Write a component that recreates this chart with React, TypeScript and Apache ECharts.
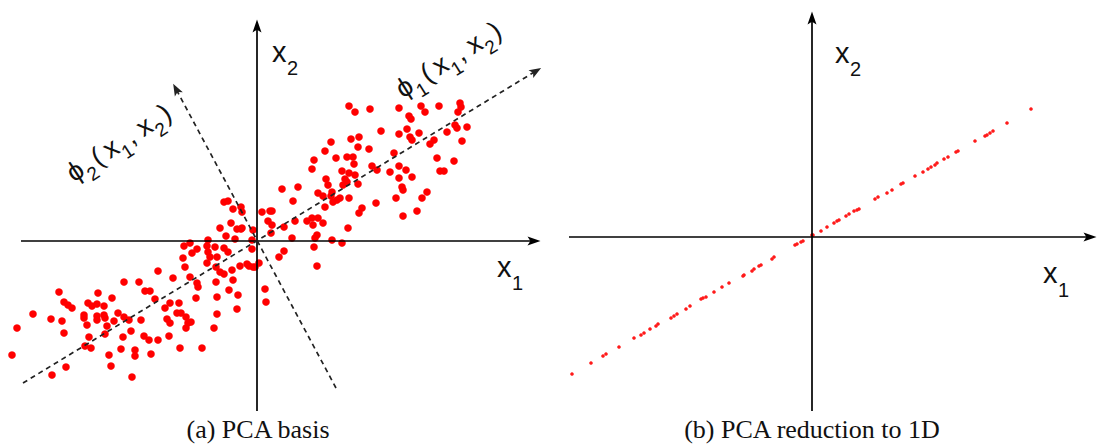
import React, { useEffect, useRef } from "react";
import * as echarts from "echarts";

// ---------- data (units: 1 = 10 px) ----------
// Panel (a): original 2-D samples (x1, x2)
const basisPoints: [number, number][] = [
  [-13.3,-4.1],[-11.8,-4.1],[-19.8,-5.1],[-15.9,-5.2],[-11.2,-5.0],[-10.7,-5.0],[-14.5,-5.7],[-19.3,-6.1],
  [-18.9,-6.4],[-18.5,-6.7],[-16.9,-6.2],[-16.5,-6.5],[-16.0,-6.3],[-15.3,-6.5],[-10.2,-5.8],[-9.9,-3.0],
  [-22.4,-7.3],[-20.6,-7.8],[-19.5,-8.0],[-17.3,-7.4],[-17.3,-7.7],[-16.0,-7.5],[-16.0,-7.9],[-15.3,-7.4],
  [-15.2,-7.7],[-13.9,-7.2],[-13.3,-7.6],[-14.3,-8.0],[-12.8,-7.9],[-11.6,-7.9],[-24.0,-8.7],[-17.0,-8.4],
  [-15.0,-8.5],[-19.3,-9.2],[-15.2,-9.3],[-12.6,-9.0],[-13.4,-9.6],[-11.3,-9.5],[-10.8,-9.9],[-9.9,-9.9],
  [-16.8,-9.6],[-17.2,-10.5],[-16.6,-10.7],[-13.6,-10.8],[-12.2,-10.9],[-12.2,-11.5],[-14.8,-11.4],[-10.6,-11.3],
  [-24.5,-11.4],[-19.1,-12.6],[-14.6,-12.5],[-20.5,-13.4],[-12.5,-13.6],
  [2.5,5.2],[4.1,5.4],[3.6,4.0],[-3.3,3.9],[-2.9,4.0],[-2.4,3.2],[-1.6,3.4],[-1.5,2.9],[0.5,2.9],[1.3,3.0],
  [1.5,3.0],[1.1,2.0],[-2.6,1.8],[-3.7,1.3],[-2.0,1.2],[-1.6,1.2],[-1.5,1.3],[-0.4,1.1],[1.5,1.6],[1.4,0.8],
  [2.7,1.4],[3.8,2.0],[5.0,2.0],[-3.1,0.5],[-2.2,0.2],[-0.5,0.1],[3.5,0.3],[-4.9,0.1],[-7.3,-0.5],[-6.7,-0.2],
  [-6.0,-0.8],[-6.5,-1.2],[-5.0,-0.5],[-4.2,-0.6],[-4.9,-1.1],[-3.3,-0.7],[-2.9,-1.1],[-0.5,-0.8],[2.7,-1.0],
  [2.2,-1.6],[-7.4,-1.7],[-4.7,-1.6],[-5.0,-2.2],[-4.0,-1.6],[-4.1,-2.6],[-3.7,-3.1],[-3.3,-3.3],[-2.5,-2.9],
  [-1.7,-2.5],[-1.0,-2.3],[-0.8,-2.5],[-0.4,-2.6],[-0.2,-2.6],[0.2,-2.2],[-7.2,-2.6],[-8.4,-3.7],[-6.7,-3.6],
  [-6.0,-4.2],[-5.9,-4.6],[-4.1,-4.1],[-2.4,-3.9],[6.0,-2.5],[-2.8,-4.9],[-1.9,-5.4],[-4.0,-5.6],[-6.1,-5.7],
  [0.8,-4.8],[0.9,-6.1],[-8.7,-6.2],[-7.8,-6.2],[-9.2,-6.7],[-8.0,-7.2],[-7.6,-7.2],[-7.1,-7.6],[-9.0,-7.8],
  [-8.7,-8.2],[-6.9,-8.2],[-6.6,-8.1],[-7.1,-8.7],[-8.8,-9.5],[-7.7,-10.7],[-5.5,-10.7],[-4.3,-8.7],[-4.0,-7.3],
  [-2.0,-6.8],
  [9.2,13.5],[9.8,12.9],[11.3,13.2],[14.2,13.3],[16.4,13.5],[16.8,12.9],[18.2,13.5],[20.3,13.8],[20.4,13.4],
  [20.1,12.9],[15.2,12.5],[15.4,12.2],[12.4,11.0],[14.2,10.7],[15.0,11.2],[16.2,10.8],[15.3,10.4],[15.5,10.1],
  [19.0,10.9],[19.8,11.6],[20.0,11.3],[21.0,11.4],[20.5,10.0],[17.7,10.1],[17.3,9.7],[7.4,9.9],[9.4,10.2],
  [10.2,10.4],[6.8,9.0],[10.1,9.4],[11.2,9.2],[5.7,8.1],[5.5,7.2],[7.9,8.3],[9.0,8.4],[9.6,8.4],[9.7,7.7],
  [13.7,8.8],[18.0,8.3],[19.7,8.0],[11.5,7.5],[12.0,7.1],[13.3,6.9],[14.2,7.5],[14.9,7.1],[14.2,6.3],[15.5,6.4],
  [18.3,7.0],[18.7,7.0],[8.5,7.0],[9.2,6.8],[9.8,6.6],[6.9,6.2],[7.1,5.6],[8.8,6.2],[9.0,5.9],[10.1,5.7],
  [8.6,5.6],[6.1,4.8],[6.6,4.5],[7.5,4.9],[7.4,4.5],[8.3,4.3],[8.0,4.1],[7.6,3.9],[6.8,3.4],[9.2,4.3],
  [14.5,5.4],[14.6,5.1],[13.9,4.3],[17.0,4.9],[16.5,4.3],[11.9,3.8],[10.5,3.3],[10.2,2.8],[14.6,2.5],[16.0,3.0],
  [9.1,1.3],[5.5,2.3],[6.1,2.3],[5.6,1.6],[6.6,1.8],[6.0,0.6],[5.8,0.3],[7.5,0.1],[8.5,-0.2],[5.7,-0.6],
];

// Panel (b): samples projected onto the first principal direction
const reducedPoints: [number, number][] = [
  [-24.0,-13.7],[-22.1,-12.6],[-20.9,-11.9],[-20.6,-11.7],[-19.3,-11.0],[-17.8,-10.1],[-17.1,-9.8],[-16.8,-9.6],
  [-16.2,-9.2],[-15.6,-8.9],[-15.4,-8.7],[-14.1,-8.1],[-13.8,-7.9],[-13.5,-7.7],[-12.6,-7.2],[-12.2,-6.9],
  [-11.1,-6.2],[-10.9,-6.1],[-10.6,-6.0],[-9.8,-5.5],[-9.0,-5.0],[-8.3,-4.6],[-6.9,-3.9],[-6.8,-3.8],
  [-6.0,-3.4],[-5.8,-3.2],[-5.3,-2.9],[-5.1,-2.8],[-4.0,-2.2],[-3.8,-2.0],[-1.7,-0.8],[-1.5,-0.7],
  [-1.1,-0.5],[-0.9,-0.4],[0.0,0.2],[0.1,0.2],[0.9,0.6],[1.5,1.0],[2.2,1.4],[2.5,1.6],[2.7,1.7],[3.4,2.1],
  [3.7,2.3],[4.2,2.6],[4.5,2.7],[4.7,2.8],[6.3,3.8],[6.6,4.0],[7.5,4.4],[8.0,4.7],[8.9,5.3],[9.1,5.4],
  [10.3,6.1],[11.1,6.5],[11.6,6.8],[11.9,7.0],[12.3,7.2],[12.5,7.4],[13.2,7.8],[13.6,8.0],[14.4,8.5],
  [14.6,8.6],[16.3,9.6],[17.3,10.1],[17.5,10.2],[17.8,10.4],[18.1,10.6],[19.5,11.4],[21.9,12.8],
];

// Guide lines (start, arrow) in data units
const aAxisX1: [number, number][] = [[-23.6, 0], [27.7, 0]];
const aAxisX2: [number, number][] = [[0, -17.0], [0, 21.5]];
const aPhi1: [number, number][] = [[-23.4, -14.2], [27.9, 17.0]];
const aPhi2: [number, number][] = [[7.9, -14.7], [-8.1, 15.2]];
const bAxisX1: [number, number][] = [[-24.3, 0], [27.8, 0]];
const bAxisX2: [number, number][] = [[0, -17.4], [0, 21.9]];

const captions = ["(a) PCA basis", "(b) PCA reduction to 1D"];

const SANS = '"Liberation Sans", Arial, Helvetica, sans-serif';
const SERIF = '"Liberation Serif", "Times New Roman", Times, serif';
const ARROW = "path://M0,0 L6,16 L0,12.5 L-6,16 Z";

function txt(text: string, x: number, base: number, size: number, family = SANS, align = "left") {
  return {
    type: "text",
    x,
    y: base - 0.345 * size,
    silent: true,
    style: { text, fontSize: size, fontFamily: family, fill: "#111", align, verticalAlign: "middle" },
  };
}

function phiLabel(x: number, y: number, deg: number, k: string) {
  const M = 27, S = 19;
  return {
    type: "group",
    x,
    y,
    rotation: (deg * Math.PI) / 180,
    children: [
      txt("ϕ", 0, 0, M),
      txt(k, 16, 9, S),
      txt("(", 29, 0, M),
      txt("x", 43, 0, M),
      txt("1", 57, 9, S),
      txt(",", 69, 0, M),
      txt("x", 83, 0, M),
      txt("2", 97, 9, S),
      txt(")", 110, 0, M),
    ],
  };
}

function seg(p: [number, number][], dashed: boolean) {
  const ls = dashed
    ? { color: "#222", width: 1.7, type: [5, 4] }
    : { color: "#000", width: 1.7, type: "solid" };
  return [
    { coord: p[0], symbol: "none", lineStyle: ls },
    { coord: p[1], symbol: ARROW, symbolSize: dashed ? [9, 12] : [9, 13], lineStyle: ls },
  ];
}

const markLineBase = {
  silent: true,
  animation: false,
  label: { show: false },
  emphasis: { disabled: true },
  symbol: ["none", ARROW],
  symbolSize: [9, 13],
  itemStyle: { color: "#000" },
};

export default function App() {
  const ref = useRef<HTMLDivElement>(null);
  useEffect(() => {
    document.body.style.margin = "0";
    const chart = echarts.init(ref.current!, null, { renderer: "svg" });
    const hidden = { show: false };
    chart.setOption({
      animation: false,
      backgroundColor: "#ffffff",
      grid: [
        { left: 7, top: 1, width: 540, height: 412 },
        { left: 552, top: 1, width: 546, height: 420 },
      ],
      xAxis: [
        { type: "value", gridIndex: 0, min: -25, max: 29, show: false, splitLine: hidden },
        { type: "value", gridIndex: 1, min: -26, max: 28.6, show: false, splitLine: hidden },
      ],
      yAxis: [
        { type: "value", gridIndex: 0, min: -17.2, max: 24, show: false, splitLine: hidden },
        { type: "value", gridIndex: 1, min: -18.4, max: 23.6, show: false, splitLine: hidden },
      ],
      series: [
        {
          type: "scatter",
          xAxisIndex: 0,
          yAxisIndex: 0,
          data: basisPoints,
          symbol: "circle",
          symbolSize: 7.6,
          itemStyle: { color: "#ff0000", opacity: 1 },
          clip: false,
          silent: true,
          markLine: {
            ...markLineBase,
            data: [seg(aAxisX1, false), seg(aAxisX2, false), seg(aPhi1, true), seg(aPhi2, true)],
          },
        },
        {
          type: "scatter",
          xAxisIndex: 1,
          yAxisIndex: 1,
          data: reducedPoints,
          symbol: "circle",
          symbolSize: 3.6,
          itemStyle: { color: "#ff1a1a", opacity: 1 },
          clip: false,
          silent: true,
          markLine: {
            ...markLineBase,
            data: [seg(bAxisX1, false), seg(bAxisX2, false)],
          },
        },
      ],
      graphic: [
        txt("x", 272, 62, 29),
        txt("2", 287, 75, 20),
        txt("x", 497, 277, 29),
        txt("1", 512, 290, 20),
        txt("x", 835, 63, 29),
        txt("2", 850, 76, 20),
        txt("x", 1043, 283, 29),
        txt("1", 1058, 297, 20),
        phiLabel(403, 99, 32, "1"),
        phiLabel(74, 183, 33, "2"),
        txt(captions[0], 258, 438, 26, SERIF, "center"),
        txt(captions[1], 812, 438, 26, SERIF, "center"),
      ],
    });
    return () => chart.dispose();
  }, []);
  return <div ref={ref} style={{ width: 1099, height: 445 }} />;
}
